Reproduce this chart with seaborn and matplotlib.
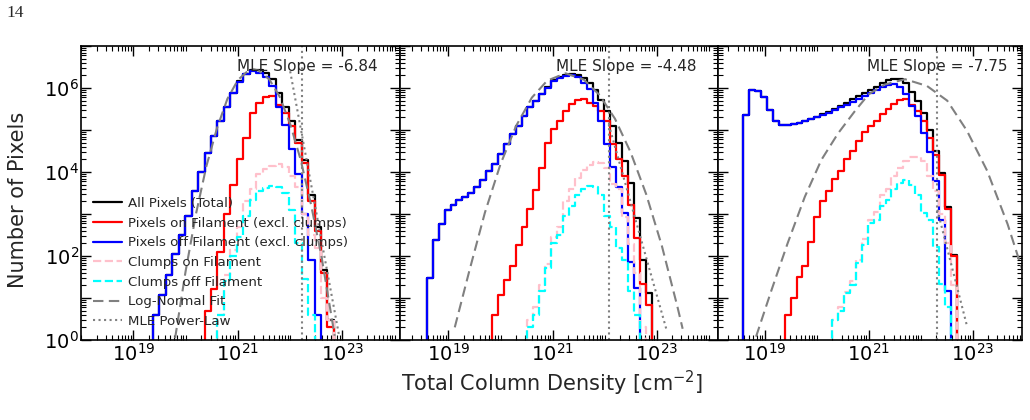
import numpy as np
import matplotlib
matplotlib.use("Agg")
import matplotlib.pyplot as plt
from matplotlib.ticker import FixedLocator, LogLocator, FuncFormatter, NullFormatter
import seaborn as sns

# ---------------------------------------------------------------- data
page_number = "14"
x_label = "Total Column Density [cm$^{-2}$]"
y_label = "Number of Pixels"
series_labels = ["All Pixels (Total)", "Pixels on Filament (excl. clumps)",
                 "Pixels off Filament (excl. clumps)", "Clumps on Filament",
                 "Clumps off Filament"]
fit_label = "Log-Normal Fit"
pl_label = "MLE Power-Law"
mle_slopes = ["-6.84", "-4.48", "-7.75"]

# bin grids: log10 of first bin edge, bin width (dex), number of bins
p1_log_edge0, p1_bin_dex, p1_nbins = 19.373, 0.1237, 28
p2_log_edge0, p2_bin_dex, p2_nbins = 18.585, 0.1137, 38
p3_log_edge0, p3_bin_dex, p3_nbins = 18.583, 0.1142, 36

# ---- panel 1 histogram counts (first bin index, counts)
p1_total_start = 0
p1_total = [4, 12, 35, 112, 316, 891, 3550, 1.0e4, 2.8e4, 7.1e4, 1.6e5, 3.5e5, 7.4e5,
            1.45e6, 2.2e6, 2.7e6, 2.7e6, 2.3e6, 1.66e6, 7.4e5, 3.6e5, 1.6e5, 5.9e4,
            1.9e4, 2.8e3, 500, 47, 3]
p1_on_start = 8
p1_on = [5, 16, 126, 1000, 5000, 2.0e4, 6.3e4, 2.5e5, 4.5e5, 6.0e5, 6.6e5, 4.0e5,
         2.5e5, 1.26e5, 5.0e4, 1.6e4, 2.0e3, 400, 40, 2]
p1_off_start = 0
p1_off = [4, 12, 35, 112, 316, 891, 3550, 1.0e4, 2.8e4, 7.1e4, 1.6e5, 3.5e5, 7.4e5,
          1.4e6, 2.1e6, 2.5e6, 2.3e6, 1.8e6, 1.1e6, 3.5e5, 1.3e5, 3.5e4, 8.9e3, 1.0e3,
          79, 4]
p1_clon_start = 10
p1_clon = [4, 35, 141, 500, 2000, 4000, 8900, 1.17e4, 1.4e4, 1.55e4, 1.3e4, 7900,
           4500, 1000, 316, 158, 10, 3]
p1_cloff_start = 10
p1_cloff = [4, 25, 100, 280, 890, 2200, 3500, 4200, 4600, 4400, 3200, 1260, 200, 28, 4]
p1_fit_N = [6.3e19, 1.0e20, 1.58e20, 2.5e20, 4.0e20, 6.3e20, 1.0e21, 1.58e21, 2.0e21,
            2.5e21, 4.0e21, 6.3e21, 1.0e22, 1.58e22, 2.5e22, 4.0e22, 7.1e22]
p1_fit_count = [1.1, 43, 1000, 1.38e4, 1.12e5, 5.5e5, 1.55e6, 2.6e6, 2.8e6, 2.6e6,
                1.6e6, 6.2e5, 1.4e5, 2.0e4, 1.7e3, 93, 1.26]
p1_pl_N = [1.0e22, 8.5e22]
p1_pl_count = [2.5e6, 1.4]
p1_xmin = 1.66e22

# ---- panel 2
p2_total_start = 0
p2_total = [30, 240, 590, 1260, 1620, 2140, 2570, 3090, 4470, 6460, 1.07e4, 1.55e4,
            2.7e4, 4.7e4, 7.9e4, 1.26e5, 2.2e5, 3.5e5, 5.0e5, 7.3e5, 1.07e6, 1.51e6,
            1.86e6, 2.09e6, 2.14e6, 2.04e6, 1.74e6, 1.32e6, 8.9e5, 5.2e5, 2.8e5,
            1.26e5, 5.0e4, 1.8e4, 5.6e3, 800, 80, 13]
p2_on_start = 11
p2_on = [4, 12, 27, 58, 182, 500, 1350, 3700, 1.26e4, 5.0e4, 1.05e5, 1.66e5, 2.9e5,
         4.2e5, 5.1e5, 5.5e5, 4.3e5, 3.8e5, 2.9e5, 1.6e5, 4.7e4, 2.0e4, 8.1e3, 1.6e3,
         263, 22, 7]
p2_off_start = 0
p2_off = [30, 240, 590, 1260, 1620, 2140, 2570, 3090, 4470, 6460, 1.07e4, 1.55e4,
          2.7e4, 4.7e4, 7.9e4, 1.26e5, 2.2e5, 3.5e5, 5.0e5, 7.2e5, 1.02e6, 1.45e6,
          1.74e6, 1.95e6, 2.0e6, 1.78e6, 1.35e6, 9.5e5, 4.5e5, 1.6e5, 4.7e4, 1.3e4,
          4.3e3, 1.05e3, 72, 17]
p2_clon_start = 17
p2_clon = [3, 6, 20, 63, 282, 500, 2000, 4000, 7100, 1.12e4, 1.5e4, 1.7e4, 1.6e4,
           1.26e4, 5100, 4000, 830, 195, 40, 2]
p2_cloff_start = 17
p2_cloff = [2, 4, 15, 51, 200, 316, 890, 1580, 2820, 4000, 4700, 4500, 2820, 890, 500,
            158, 79, 15, 4]
p2_fit_N = [1.32e19, 2.5e19, 5.0e19, 1.0e20, 2.0e20, 4.0e20, 7.9e20, 1.78e21, 4.0e21,
            7.9e21, 1.58e22, 3.16e22, 6.3e22, 1.26e23, 2.5e23, 3.16e23]
p2_fit_count = [2, 43, 1070, 1.55e4, 1.26e5, 5.9e5, 1.5e6, 2.24e6, 1.58e6, 6.9e5,
                1.86e5, 2.95e4, 2.95e3, 174, 6.3, 1.85]
p2_pl_N = [1.2e22, 1.58e23]
p2_pl_count = [1.35e5, 1.6]
p2_xmin = 1.2e22

# ---- panel 3
p3_total_start = 0
p3_total = [2.3e5, 9.1e5, 8.7e5, 6.2e5, 3.0e5, 1.66e5, 1.32e5, 1.32e5, 1.38e5, 1.48e5,
            1.62e5, 1.78e5, 2.0e5, 2.34e5, 2.7e5, 3.2e5, 3.8e5, 4.5e5, 5.4e5, 6.3e5,
            7.6e5, 9.1e5, 1.05e6, 1.32e6, 1.51e6, 1.66e6, 1.62e6, 1.32e6, 7.9e5, 5.0e5,
            2.6e5, 1.0e5, 3.2e4, 9.3e3, 1.45e3, 105]
p3_on_start = 7
p3_on = [4, 10, 31, 59, 214, 830, 2.0e3, 3.6e3, 6.8e3, 1.07e4, 2.0e4, 3.2e4, 5.6e4,
         8.9e4, 1.26e5, 1.66e5, 2.4e5, 3.2e5, 4.2e5, 5.2e5, 5.5e5, 4.0e5, 2.8e5, 1.6e5,
         6.3e4, 2.5e4, 8.5e3, 1.35e3, 100]
p3_off_start = 0
p3_off = [2.3e5, 9.1e5, 8.7e5, 6.2e5, 3.0e5, 1.66e5, 1.32e5, 1.32e5, 1.38e5, 1.48e5,
          1.62e5, 1.78e5, 2.0e5, 2.3e5, 2.57e5, 3.0e5, 3.5e5, 4.0e5, 4.7e5, 5.6e5,
          6.6e5, 7.8e5, 8.9e5, 1.07e6, 1.2e6, 1.26e6, 1.07e6, 7.2e5, 3.8e5, 2.2e5,
          8.7e4, 2.95e4, 6.2e3, 720, 15]
p3_clon_start = 15
p3_clon = [3, 6, 14, 25, 79, 250, 710, 1120, 2800, 4000, 7900, 1.26e4, 1.78e4, 2.24e4,
           2.3e4, 1.78e4, 7900, 3550, 1000, 200, 20]
p3_cloff_start = 15
p3_cloff = [3, 5, 13, 20, 68, 182, 603, 708, 1580, 2140, 3980, 5600, 6600, 5000, 2880,
            1050, 724, 166, 22, 6]
p3_fit_N = [6.8e18, 1.35e19, 2.75e19, 5.9e19, 1.23e20, 2.57e20, 5.4e20, 1.0e21, 2.0e21,
            5.0e21, 1.32e22, 3.24e22, 7.8e22, 1.9e23, 4.7e23, 9.1e23]
p3_fit_count = [1.2, 15.5, 200, 2570, 1.95e4, 8.3e4, 2.8e5, 7.1e5, 1.2e6, 1.62e6,
                1.12e6, 5.0e5, 9.5e4, 1.07e4, 575, 45]
p3_pl_N = [2.09e22, 7.9e22]
p3_pl_count = [1260, 2]
p3_xmin = 2.09e22

x_limits = [(1.0e18, 1.26e24), (1.17e18, 1.51e24), (1.26e18, 8.9e23)]
y_limits = (1, 1e7)
x_major = [1e19, 1e21, 1e23]

series_colors = ["black", "red", "blue", "pink", "cyan"]
series_styles = ["-", "-", "-", "--", "--"]
fit_color = "#808080"

# ---------------------------------------------------------------- style
sns.set_theme(style="ticks")
plt.rcParams["font.family"] = ["DejaVu Sans"]
plt.rcParams["mathtext.fontset"] = "dejavusans"

fig = plt.figure(figsize=(10.3, 4.2), dpi=100)
W, H = 1030.0, 420.0
bottom, height = (H - 340) / H, 294 / H
axes = [fig.add_axes([81 / W, bottom, 319 / W, height]),
        fig.add_axes([400 / W, bottom, 318 / W, height]),
        fig.add_axes([718 / W, bottom, 304 / W, height])]

panels = [
    dict(grid=(p1_log_edge0, p1_bin_dex, p1_nbins),
         series=[(p1_total_start, p1_total), (p1_on_start, p1_on), (p1_off_start, p1_off),
                 (p1_clon_start, p1_clon), (p1_cloff_start, p1_cloff)],
         fit=(p1_fit_N, p1_fit_count), pl=(p1_pl_N, p1_pl_count), xmin=p1_xmin),
    dict(grid=(p2_log_edge0, p2_bin_dex, p2_nbins),
         series=[(p2_total_start, p2_total), (p2_on_start, p2_on), (p2_off_start, p2_off),
                 (p2_clon_start, p2_clon), (p2_cloff_start, p2_cloff)],
         fit=(p2_fit_N, p2_fit_count), pl=(p2_pl_N, p2_pl_count), xmin=p2_xmin),
    dict(grid=(p3_log_edge0, p3_bin_dex, p3_nbins),
         series=[(p3_total_start, p3_total), (p3_on_start, p3_on), (p3_off_start, p3_off),
                 (p3_clon_start, p3_clon), (p3_cloff_start, p3_cloff)],
         fit=(p3_fit_N, p3_fit_count), pl=(p3_pl_N, p3_pl_count), xmin=p3_xmin),
]


def sci_label(v, pos):
    e = int(round(np.log10(v)))
    return r"$\mathdefault{10^{%d}}$" % e


def sci_label_even(v, pos):
    e = int(round(np.log10(v)))
    return r"$\mathdefault{10^{%d}}$" % e if e % 2 == 0 else ""


PAD = 2
for k, (ax, pan) in enumerate(zip(axes, panels)):
    ax.set_xscale("log")
    ax.set_yscale("log")
    e0, dex, nb = pan["grid"]
    edges = e0 + dex * np.arange(-PAD, nb + PAD + 1)
    centers = 10 ** ((edges[:-1] + edges[1:]) / 2)
    for j, (start, counts) in enumerate(pan["series"]):
        w = np.zeros(len(centers))
        w[PAD + start: PAD + start + len(counts)] = counts
        kw = dict(label=series_labels[j]) if k == 0 else {}
        sns.histplot(x=centers, weights=w, bins=[float(v) for v in edges],
                     element="step", fill=False,
                     color=series_colors[j], linestyle=series_styles[j],
                     linewidth=1.6, ax=ax, **kw)
    fx, fy = pan["fit"]
    kw = dict(label=fit_label) if k == 0 else {}
    sns.lineplot(x=fx, y=fy, ax=ax, color=fit_color, linewidth=1.5,
                 linestyle=(0, (5, 2.6)), estimator=None, sort=False, **kw)
    ax.axvline(pan["xmin"], color=fit_color, linestyle=":", linewidth=1.5)
    px, py = pan["pl"]
    kw = dict(label=pl_label) if k == 0 else {}
    sns.lineplot(x=px, y=py, ax=ax, color=fit_color, linewidth=1.5,
                 linestyle=":", estimator=None, sort=False, **kw)

    ax.set_xlim(*x_limits[k])
    ax.set_ylim(*y_limits)
    ax.set_xlabel("")
    ax.set_ylabel("")
    ax.xaxis.set_major_locator(FixedLocator(x_major))
    ax.xaxis.set_major_formatter(FuncFormatter(sci_label))
    ax.xaxis.set_minor_locator(LogLocator(base=10, subs=np.arange(1, 10), numticks=60))
    ax.xaxis.set_minor_formatter(NullFormatter())
    ax.yaxis.set_major_locator(LogLocator(base=10, numticks=30))
    ax.yaxis.set_major_formatter(FuncFormatter(sci_label_even))
    ax.yaxis.set_minor_locator(LogLocator(base=10, subs=np.arange(2, 10), numticks=60))
    ax.yaxis.set_minor_formatter(NullFormatter())
    ax.tick_params(which="both", direction="in", top=True, right=True,
                   labelsize=14, colors="black")
    ax.tick_params(which="major", length=7, width=1.0)
    ax.tick_params(which="minor", length=3.5, width=0.8)
    ax.tick_params(axis="x", which="both", pad=2)
    ax.tick_params(axis="y", which="both", pad=1.5)
    if k > 0:
        ax.tick_params(labelleft=False)
    for sp in ax.spines.values():
        sp.set_color("black")
        sp.set_linewidth(1.2)
    ax.text(0.49, 0.93, f"MLE Slope = {mle_slopes[k]}", transform=ax.transAxes,
            fontsize=11, ha="left", va="center")
    if ax.get_legend() is not None:
        ax.get_legend().remove()

handles, labels = axes[0].get_legend_handles_labels()
axes[0].legend(handles, labels, loc="lower left", frameon=False, fontsize=9.6,
               handlelength=2.17, handletextpad=0.45, labelspacing=0.5,
               borderpad=0.4, borderaxespad=0.5)

fig.text(552 / W, 1 - 383 / H, x_label, ha="center", va="center", fontsize=15)
fig.text(18 / W, 1 - 200 / H, y_label, ha="center", va="center", fontsize=15,
         rotation=90)
fig.text(6 / W, 1 - 13 / H, page_number, ha="left", va="center", fontsize=12.5,
         family=["Liberation Serif", "DejaVu Serif"])

fig.savefig("out.png", dpi=100)
